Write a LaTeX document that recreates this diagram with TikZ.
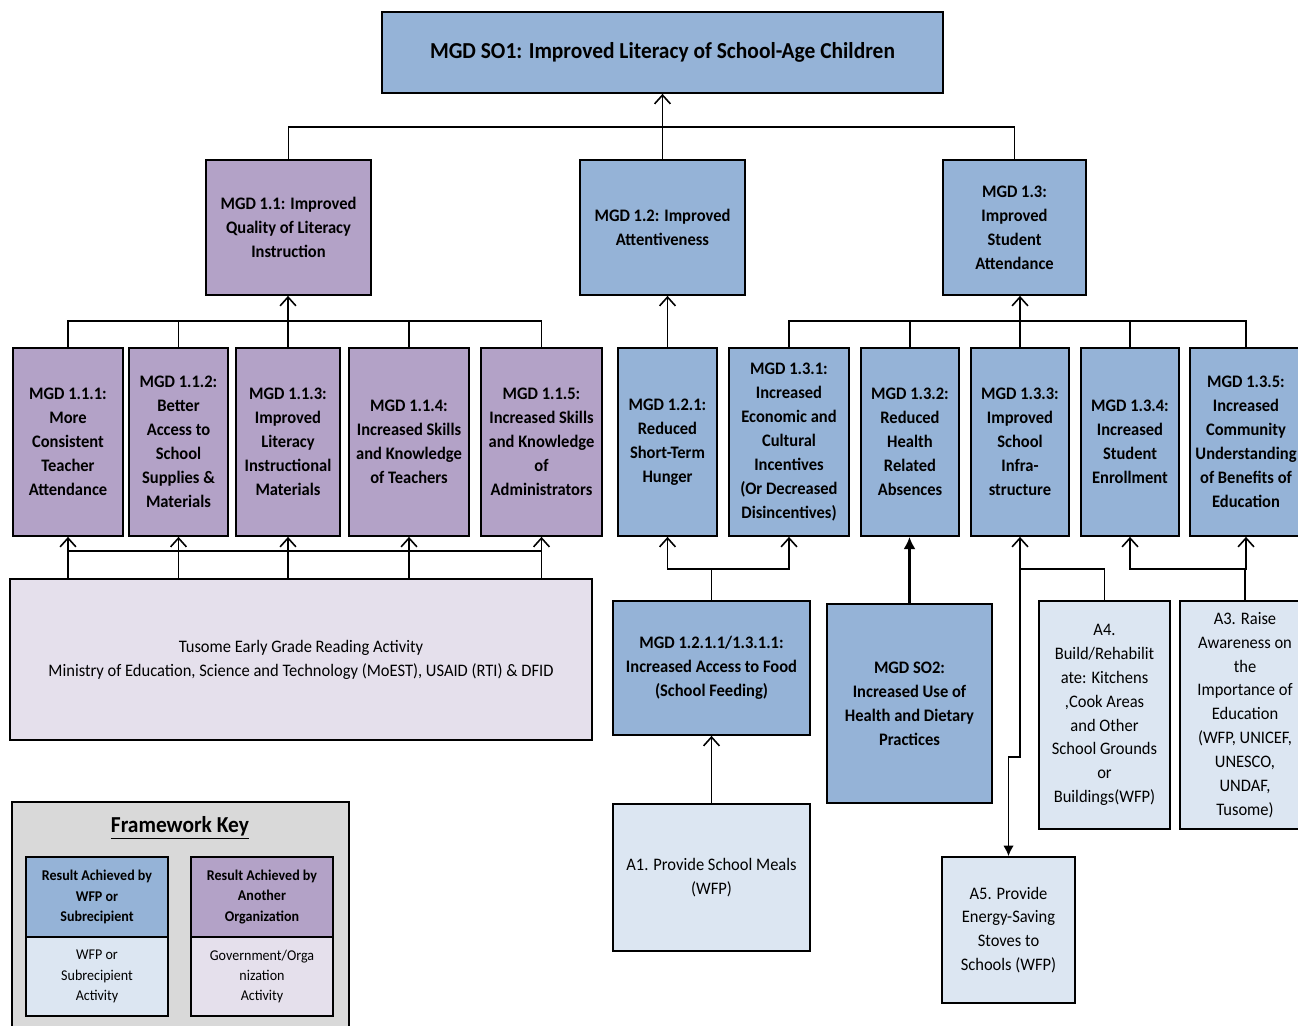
\documentclass[tikz,border=0pt]{standalone}
\usepackage{fontspec}
\setmainfont[FakeStretch=0.94]{Carlito}
\usetikzlibrary{arrows.meta}
\definecolor{resblue}{HTML}{95B3D7}
\definecolor{respurple}{HTML}{B3A2C7}
\definecolor{actblue}{HTML}{DCE6F2}
\definecolor{actlav}{HTML}{E5E0EC}
\definecolor{keygray}{HTML}{D9D9D9}
\begin{document}
\begin{tikzpicture}[x=0.02cm, y=-0.02cm,
    >={Straight Barb[length=5pt,width=9pt]},
    sz/.style 2 args={minimum width=#1*0.02cm, minimum height=#2*0.02cm},
    box/.style={draw, line width=1pt, align=center, inner sep=1pt},
    wfpres/.style={box, fill=resblue, font=\fontsize{10}{13.6}\selectfont\bfseries},
    othres/.style={box, fill=respurple, font=\fontsize{10}{13.6}\selectfont\bfseries},
    wfpact/.style={box, fill=actblue, font=\fontsize{10}{13.6}\selectfont},
    othact/.style={box, fill=actlav, font=\fontsize{10}{13.6}\selectfont},
    link/.style={line width=0.9pt}]
  \clip (0,0) rectangle (1298,1025);
  % top goal
  \node[wfpres, sz={561}{81}, font=\fontsize{13}{16}\selectfont\bfseries] (so1) at (662.5,52.5)
    {MGD SO1: Improved Literacy of School-Age Children};
  % first level results
  \node[othres, sz={165}{135}] (n11) at (288.5,227.5) {MGD 1.1: Improved\\Quality of Literacy\\Instruction};
  \node[wfpres, sz={165}{135}] (n12) at (662.5,227.5) {MGD 1.2: Improved\\Attentiveness};
  \node[wfpres, sz={143}{135}] (n13) at (1014.5,227.5) {MGD 1.3:\\Improved\\Student\\Attendance};
  % second level results
  \node[othres, sz={110}{188}] (n111) at (68,442) {MGD 1.1.1:\\More\\Consistent\\Teacher\\Attendance};
  \node[othres, sz={99}{188}] (n112) at (178.5,442) {MGD 1.1.2:\\Better\\Access to\\School\\Supplies \&\\Materials};
  \node[othres, sz={104}{188}] (n113) at (288,442) {MGD 1.1.3:\\Improved\\Literacy\\Instructional\\Materials};
  \node[othres, sz={120}{188}] (n114) at (409,442) {MGD 1.1.4:\\Increased Skills\\and Knowledge\\of Teachers};
  \node[othres, sz={121}{188}] (n115) at (541.5,442) {MGD 1.1.5:\\Increased Skills\\and Knowledge\\of\\Administrators};
  \node[wfpres, sz={99}{188}] (n121) at (667.5,442) {MGD 1.2.1:\\Reduced\\Short-Term\\Hunger};
  \node[wfpres, sz={120}{188}] (n131) at (789,442) {MGD 1.3.1:\\Increased\\Economic and\\Cultural\\Incentives\\(Or Decreased\\Disincentives)};
  \node[wfpres, sz={98}{188}] (n132) at (910,442) {MGD 1.3.2:\\Reduced\\Health\\Related\\Absences};
  \node[wfpres, sz={98}{188}] (n133) at (1020,442) {MGD 1.3.3:\\Improved\\School\\Infra-\\structure};
  \node[wfpres, sz={98}{188}] (n134) at (1130,442) {MGD 1.3.4:\\Increased\\Student\\Enrollment};
  \node[wfpres, sz={112}{188}] (n135) at (1246,442) {MGD 1.3.5:\\Increased\\Community\\Understanding\\of Benefits of\\Education};
  % lower results and activities
  \node[othact, sz={582}{161}] (tusome) at (301,659.5)
    {Tusome Early Grade Reading Activity\\Ministry of Education, Science and Technology (MoEST), USAID (RTI) \& DFID};
  \node[wfpres, sz={197}{134}] (n1211) at (711.5,668) {MGD 1.2.1.1/1.3.1.1:\\Increased Access to Food\\(School Feeding)};
  \node[wfpact, sz={197}{147}] (a1) at (711.5,877.5) {A1. Provide School Meals\\(WFP)};
  \node[wfpres, sz={165}{199}] (so2) at (909.5,703.5) {MGD SO2:\\Increased Use of\\Health and Dietary\\Practices};
  \node[wfpact, sz={131}{228}] (a4) at (1104.5,715) {A4.\\Build/Rehabilit\\ate: Kitchens\\,Cook Areas\\and Other\\School Grounds\\or\\Buildings(WFP)};
  \node[wfpact, sz={130}{228}] (a3) at (1245,715) {A3. Raise\\Awareness on\\the\\Importance of\\Education\\(WFP, UNICEF,\\UNESCO,\\UNDAF,\\Tusome)};
  \node[wfpact, sz={133}{146}] (a5) at (1008.5,930) {A5. Provide\\Energy-Saving\\Stoves to\\Schools (WFP)};
  % connectors
  \coordinate (topbar) at (0,127);
  \coordinate (midbar) at (0,321);
  \coordinate (tbar) at (0,551);
  \coordinate (fbar) at (0,569);
  \draw[link] (n11.north) |- (topbar -| n13) -- (n13.north);
  \draw[link, ->] (n12.north) -- (so1.south);
  \draw[link] (n111.north) |- (midbar -| n115) -- (n115.north);
  \foreach \n in {112,113,114}
    \draw[link] (n\n.north) -- (midbar -| n\n);
  \draw[link, ->] (midbar -| n113) -- (n113.north |- n11.south);
  \draw[link] (n131.north) |- (midbar -| n135) -- (n135.north);
  \foreach \n in {132,133,134}
    \draw[link] (n\n.north) -- (midbar -| n\n);
  \draw[link, ->] (midbar -| n133) -- (n133.north |- n13.south);
  \draw[link, ->] (n121.north) -- (n121.north |- n12.south);
  \draw[link] (tbar -| n111) -- (tbar -| n115);
  \foreach \n in {111,112,113,114,115}
    \draw[link, ->] (tusome.north -| n\n) -- (n\n.south);
  \draw[link] (n1211.north) -- (n1211.north |- fbar);
  \draw[link, <->] (n121.south) |- (fbar -| n131) -- (n131.south);
  \draw[link, ->] (a1.north) -- (a1.north |- n1211.south);
  \draw[line width=2pt, -{Latex[length=7pt,width=7pt]}] (so2.north) -- (so2.north |- n132.south);
  \draw[link, ->] (a4.north) |- (fbar -| n133) -- (n133.south);
  \draw[link, -{Latex[length=6pt,width=6pt]}] (fbar -| n133) -- ++(0,188) -| (a5.north);
  \draw[link] (a3.north) -- (a3.north |- fbar);
  \draw[link, <->] (n134.south) |- (fbar -| n135) -- (n135.south);
  % framework key
  \node[draw, line width=1pt, fill=keygray, sz={337}{238}] (key) at (180.5,921) {};
  \node[font=\fontsize{13}{16}\selectfont\bfseries] (keytitle) at (180,828) {\underline{Framework Key}};
  \node[wfpres, sz={142}{80}, font=\fontsize{8.5}{11.5}\selectfont\bfseries] (k1) at (97,897) {Result Achieved by\\WFP or\\Subrecipient};
  \node[wfpact, sz={142}{79}, font=\fontsize{8.5}{11.5}\selectfont] (k2) at (97,976.5) {WFP or\\Subrecipient\\Activity};
  \node[othres, sz={142}{80}, font=\fontsize{8.5}{11.5}\selectfont\bfseries] (k3) at (262,897) {Result Achieved by\\Another\\Organization};
  \node[othact, sz={142}{79}, font=\fontsize{8.5}{11.5}\selectfont] (k4) at (262,976.5) {Government/Orga\\nization\\Activity};
\end{tikzpicture}
\end{document}
